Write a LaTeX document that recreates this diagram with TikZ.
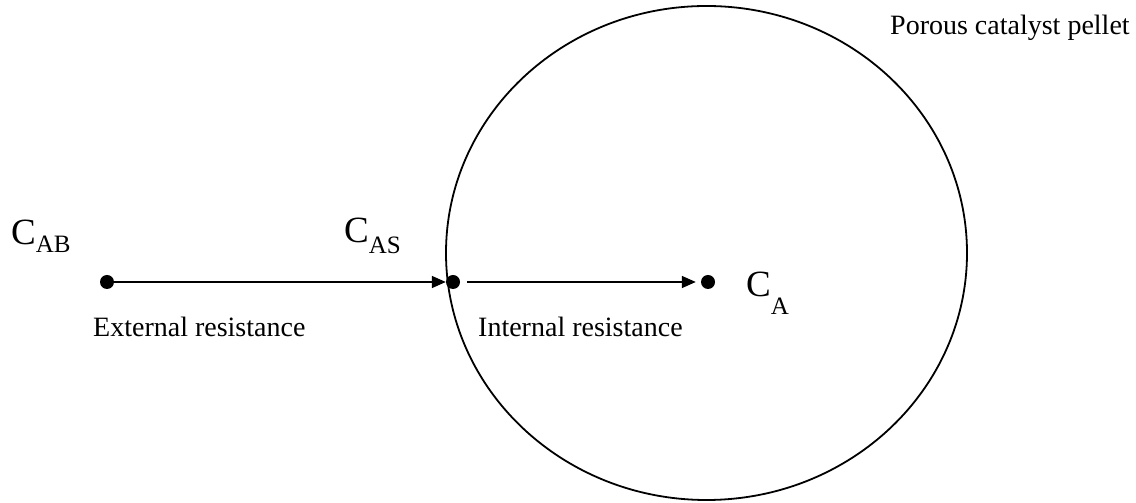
\documentclass[tikz,border=0pt]{standalone}
\usepackage{fontspec}
\setmainfont{Liberation Serif}
\usetikzlibrary{arrows.meta,shapes.geometric}
\begin{document}
\begin{tikzpicture}[x=1pt,y=1pt,
  dotnode/.style={circle,fill=black,inner sep=0pt,minimum size=14pt},
  arr/.style={line width=1.6pt,-{Triangle[length=14pt,width=12pt]}},
  lbl/.style={inner sep=0pt,anchor=base west,font=\fontsize{28}{28}\selectfont},
  conc/.style={inner sep=0pt,anchor=base west,font=\fontsize{37}{37}\selectfont},
  pelletstyle/.style={ellipse,draw,line width=1.8pt,minimum width=521pt,minimum height=494pt,inner sep=0pt}
]
\useasboundingbox (0,0) rectangle (1136,503);
\node[pelletstyle] (pellet) at (706.5,250) {};
\node[dotnode] (dotB) at (107,221) {};
\node[dotnode] (dotS) at (453,221) {};
\node[dotnode] (dotA) at (708,221) {};
\draw[arr] (dotB) -- (dotS);
\draw[arr,shorten <=7pt,shorten >=5pt] (dotS) -- (dotA);
\newcommand{\subt}[2]{\raisebox{-#1pt}{\fontsize{25}{25}\selectfont #2}}
\node[conc] (cab) at (11,258) {C\subt{8}{AB}};
\node[conc] (cas) at (344,260) {C\subt{11}{AS}};
\node[conc] (ca) at (746,206) {C\subt{18}{A}};
\node[lbl] (ext) at (93,166) {External resistance};
\node[lbl] (int) at (478,166) {Internal resistance};
\node[lbl] (por) at (890,468) {Porous catalyst pellet};
\end{tikzpicture}
\end{document}
